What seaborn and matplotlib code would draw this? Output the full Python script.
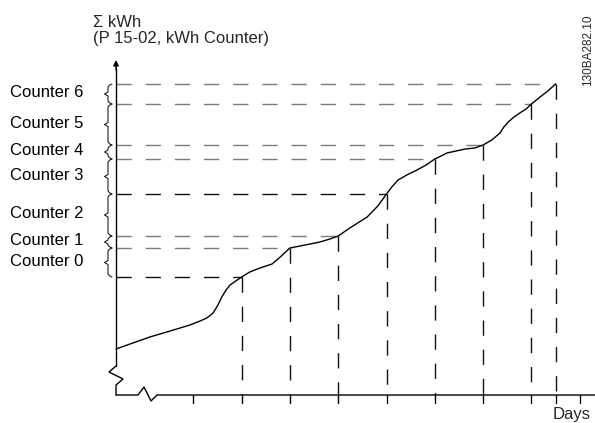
import matplotlib
matplotlib.use('Agg')
import matplotlib.pyplot as plt
import numpy as np
import pandas as pd
import seaborn as sns

# Data (days / cumulated kWh, arbitrary units)
days = [-0.60, -0.31, 0.10, 0.52, 0.93, 1.14, 1.28, 1.41, 1.51, 1.59, 1.68, 1.76,
        1.88, 2.00, 2.17, 2.38, 2.63, 2.80, 3.00, 3.21, 3.42, 3.62, 3.83, 4.00,
        4.24, 4.60, 4.82, 5.00, 5.11, 5.24, 5.42, 5.63, 5.82, 6.00, 6.13, 6.25,
        6.44, 6.63, 6.83, 7.00, 7.18, 7.35, 7.43, 7.52, 7.64, 7.76, 7.89, 8.00,
        8.18, 8.34, 8.50]
kwh = [4.6, 5.1, 5.8, 6.4, 7.0, 7.4, 7.7, 8.2, 9.0, 9.8, 10.5, 11.0,
       11.4, 11.8, 12.3, 12.7, 13.1, 13.8, 14.7, 14.9, 15.1, 15.3, 15.6, 15.9,
       16.7, 17.8, 18.9, 20.1, 20.8, 21.5, 22.0, 22.5, 23.0, 23.6, 23.9, 24.2,
       24.4, 24.6, 24.7, 25.0, 25.5, 26.2, 26.8, 27.3, 27.8, 28.2, 28.6, 29.1,
       29.8, 30.4, 31.1]

counter_days = [2, 3, 4, 5, 6, 7, 8, 8.5]
counter_kwh = [11.8, 14.7, 15.9, 20.1, 23.6, 25.0, 29.1, 31.1]
counter_labels = ['Counter 0', 'Counter 1', 'Counter 2', 'Counter 3',
                  'Counter 4', 'Counter 5', 'Counter 6']
line_gray = [False, True, True, False, True, True, True, True]
tick_days = [1, 2, 3, 4, 5, 6, 7, 8, 8.5, 9]

# Scale: 1 day = 48.3 px, 1 kWh unit = 10 px
PX_X = 48.3
PX_Y = 10.0
Y_AXIS = -0.6
Y_TOP = 33.5

sns.set_theme(style='white')
plt.rcParams['font.family'] = ['Liberation Sans', 'DejaVu Sans']

fig = plt.figure(figsize=(5.95, 4.23), dpi=100)
ax = fig.add_axes([0, 0, 1, 1])
ax.set_xlim(-145 / PX_X, 450 / PX_X)
ax.set_ylim(-28 / PX_Y, 395 / PX_Y)
ax.axis('off')

GRAY = '#7a7a7a'
BLACK = '#111111'
dash = (0, (11, 10))

# Horizontal and vertical dashed guide lines
for d, k, g in zip(counter_days, counter_kwh, line_gray):
    c = GRAY if g else BLACK
    ax.plot([Y_AXIS, d], [k, k], color=c, lw=1.0, ls=dash)
    ax.plot([d, d], [k, 0], color=BLACK, lw=1.0, ls=dash)

# kWh curve
df = pd.DataFrame({'days': days, 'kwh': kwh})
sns.lineplot(data=df, x='days', y='kwh', ax=ax, color='black', lw=1.0,
             errorbar=None, sort=False)

# y axis with break
bx = Y_AXIS
ax.plot([bx, bx], [29 / PX_Y, Y_TOP - 0.8], color='black', lw=1.0)
ax.annotate('', xy=(bx, Y_TOP), xytext=(bx, Y_TOP - 1.0),
            arrowprops=dict(arrowstyle='-|>', color='black', lw=1.0,
                            mutation_scale=8, shrinkA=0, shrinkB=0))
ax.plot([bx, bx - 7 / PX_X, bx + 7 / PX_X, bx, bx],
        [2.9, 2.3, 1.6, 1.0, 0.0], color='black', lw=1.0)

# x axis with break
ax.plot([bx, -7 / PX_X, -1 / PX_X, 6 / PX_X, 12 / PX_X, 450 / PX_X],
        [0, 0, 0.8, -0.6, 0, 0], color='black', lw=1.0)
for t in tick_days:
    ax.plot([t, t], [0, -0.8], color='black', lw=1.0)

# braces left of the y axis
bk = sorted(counter_kwh)
for lo, hi in zip(bk[:-1], bk[1:]):
    mid = (lo + hi) / 2
    xs = np.array([112, 109.5, 108, 108, 104.5, 108, 108, 109.5, 112]) - 145
    ys = [hi, hi - 0.12, hi - 0.3, mid + 0.2, mid, mid - 0.2, lo + 0.3, lo + 0.12, lo]
    ax.plot(xs / PX_X, ys, color='black', lw=0.7)

# counter labels
for lo, hi, lab in zip(bk[:-1], bk[1:], counter_labels):
    ax.text(-135 / PX_X, (lo + hi) / 2 - 0.3, lab, fontsize=12,
            ha='left', va='baseline', color='black')

ax.text(-52 / PX_X, 36.8, 'Σ kWh', fontsize=12, ha='left', va='baseline')
ax.text(-52 / PX_X, 35.2, '(P 15-02, kWh Counter)', fontsize=12,
        ha='left', va='baseline')
ax.text(408 / PX_X, -2.4, 'Days', fontsize=12, ha='left', va='baseline')
ax.text(443 / PX_X, 34.45, '130BA282.10', fontsize=8.5, rotation=90,
        ha='center', va='center')

plt.savefig('out.png', dpi=100)
